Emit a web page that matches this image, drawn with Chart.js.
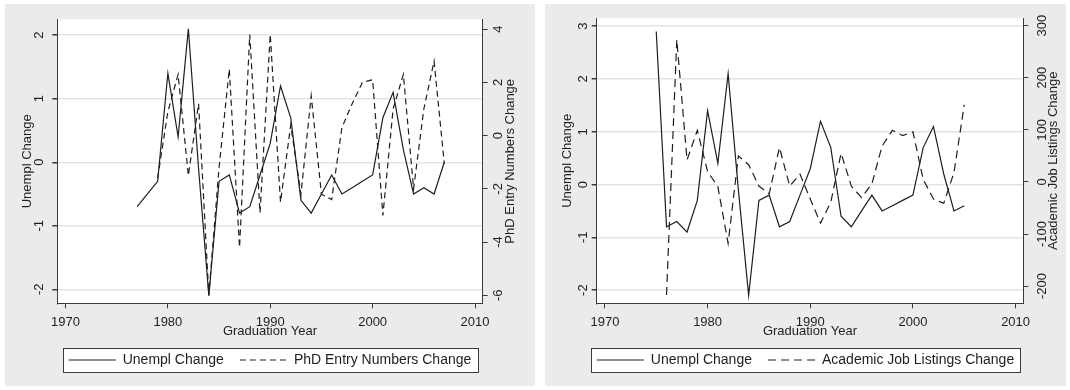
<!DOCTYPE html>
<html>
<head>
<meta charset="utf-8">
<script src="https://cdn.jsdelivr.net/npm/chart.js@4.4.0/dist/chart.umd.min.js"></script>
<style>
  body { margin: 0; background: #fff; width: 1070px; height: 390px; position: relative; overflow: hidden; }
  .panel { position: absolute; top: 4px; height: 382px; background: #ebebeb; }
  #p1 { left: 5px; width: 530px; }
  #p2 { left: 545px; width: 521px; }
  canvas { display: block; }
</style>
</head>
<body>
<div class="panel" id="p1"><canvas id="c1" width="530" height="382"></canvas></div>
<div class="panel" id="p2"><canvas id="c2" width="521" height="382"></canvas></div>
<script>
// left panel: unemployment vs PhD entry numbers (1977-2007)
const leftYears = [1977, 1978, 1979, 1980, 1981, 1982, 1983, 1984, 1985, 1986, 1987, 1988, 1989, 1990, 1991, 1992,
  1993, 1994, 1995, 1996, 1997, 1998, 1999, 2000, 2001, 2002, 2003, 2004, 2005, 2006, 2007];
const leftUnempl = [-0.7, null, -0.3, 1.4, 0.4, 2.1, -0.1, -2.1, -0.3, -0.2, -0.8, -0.7, -0.2, 0.3, 1.2, 0.7,
  -0.6, -0.8, -0.5, -0.2, -0.5, -0.4, -0.3, -0.2, 0.7, 1.1, 0.2, -0.5, -0.4, -0.5, 0.0];
const leftPhd = [null, null, -1.6, 0.9, 2.3, -1.5, 1.2, -6.0, -1.2, 2.5, -4.2, 3.8, -2.9, 3.8, -2.5, 0.4,
  -2.2, 1.5, -2.2, -2.4, 0.3, 1.2, 2.0, 2.1, -3.0, 1.0, 2.3, -2.0, 1.0, 2.8, -1.05];

// right panel: unemployment vs academic job listings (1975-2005)
const rightYears = [1975, 1976, 1977, 1978, 1979, 1980, 1981, 1982, 1983, 1984, 1985, 1986, 1987, 1988, 1989, 1990,
  1991, 1992, 1993, 1994, 1995, 1996, 1997, 1998, 1999, 2000, 2001, 2002, 2003, 2004, 2005];
const rightUnempl = [2.9, -0.8, -0.7, -0.9, -0.3, 1.4, 0.4, 2.1, -0.1, -2.1, -0.3, -0.2, -0.8, -0.7, -0.2, 0.3,
  1.2, 0.7, -0.6, -0.8, -0.5, -0.2, -0.5, -0.4, -0.3, -0.2, 0.7, 1.1, 0.2, -0.5, -0.4];
const rightJobs = [null, -217, 273, 42, 99, 20, -9, -118, 50, 33, -8, -23, 66, -8, 15, -33,
  -79, -39, 55, -8, -30, -4, 69, 99, 89, 96, 5, -33, -41, 18, 148];

const xTicks = [1970, 1980, 1990, 2000, 2010];
const leftYTicks = [-2, -1, 0, 1, 2];
const leftY2Ticks = [-6, -4, -2, 0, 2, 4];
const rightYTicks = [-2, -1, 0, 1, 2, 3];
const rightY2Ticks = [-200, -100, 0, 100, 200, 300];

const FONT = '"Liberation Sans", Arial, sans-serif';
const INK = '#1e1e1e';
const AXIS = '#3a3a3a';
Chart.defaults.font.family = FONT;
Chart.defaults.color = INK;

const plotBackground = {
  id: 'plotBackground',
  beforeDraw(chart) {
    const { ctx, chartArea: a } = chart;
    ctx.save();
    ctx.fillStyle = '#ffffff';
    ctx.fillRect(a.left, a.top, a.right - a.left, a.bottom - a.top);
    ctx.restore();
  }
};

// frame round the legend entries
const legendFrame = {
  id: 'legendFrame',
  afterDraw(chart) {
    const boxes = chart.legend && chart.legend.legendHitBoxes;
    if (!boxes || !boxes.length) return;
    const x0 = Math.min(...boxes.map(b => b.left)) - 6;
    const x1 = Math.max(...boxes.map(b => b.left + b.width)) + 6;
    const cy = boxes[0].top + boxes[0].height / 2;
    const ctx = chart.ctx;
    ctx.save();
    ctx.fillStyle = '#ffffff';
    ctx.globalCompositeOperation = 'destination-over';
    ctx.fillRect(Math.round(x0), Math.round(cy - 12), Math.round(x1 - x0), 24);
    ctx.globalCompositeOperation = 'source-over';
    ctx.strokeStyle = AXIS;
    ctx.lineWidth = 1;
    ctx.strokeRect(Math.round(x0) + 0.5, Math.round(cy - 12) + 0.5, Math.round(x1 - x0), 24);
    ctx.restore();
  }
};

// right axis title, read bottom to top like the left one
const sideTitle = {
  id: 'sideTitle',
  afterDraw(chart, args, opts) {
    const s = chart.scales.y2;
    const a = chart.chartArea;
    const ctx = chart.ctx;
    ctx.save();
    ctx.translate(s.left + opts.offset, (a.top + a.bottom) / 2);
    ctx.rotate(-Math.PI / 2);
    ctx.font = '13px ' + FONT;
    ctx.fillStyle = INK;
    ctx.textAlign = 'center';
    ctx.textBaseline = 'middle';
    ctx.fillText(opts.text, 0, 0);
    ctx.restore();
  }
};

function points(years, values) {
  return years.map((yr, i) => ({ x: yr, y: values[i] }));
}

function fixTicks(list) {
  return scale => { scale.ticks = list.map(v => ({ value: v })); };
}

// point-style legend items lose the dash, so copy the line style back in
function lineLabels(chart) {
  const items = Chart.defaults.plugins.legend.labels.generateLabels(chart);
  items.forEach(item => {
    const ds = chart.data.datasets[item.datasetIndex];
    item.lineDash = ds.borderDash || [];
    item.lineWidth = ds.borderWidth;
    item.strokeStyle = ds.borderColor;
  });
  return items;
}

function makePanel(id, p) {
  const ctx = document.getElementById(id).getContext('2d');
  return new Chart(ctx, {
    type: 'line',
    data: {
      datasets: [
        {
          label: 'Unempl Change',
          data: points(p.years, p.unempl),
          yAxisID: 'y',
          borderColor: INK,
          borderWidth: 1.2,
          pointRadius: 0,
          pointStyle: 'line',
          tension: 0,
          spanGaps: true
        },
        {
          label: p.label2,
          data: points(p.years, p.other),
          yAxisID: 'y2',
          borderColor: INK,
          borderWidth: 1.2,
          borderDash: p.dash,
          pointRadius: 0,
          pointStyle: 'line',
          tension: 0,
          spanGaps: true
        }
      ]
    },
    options: {
      responsive: false,
      animation: false,
      layout: { padding: { top: 14.3, bottom: 9, left: 0, right: 0 } },
      plugins: {
        tooltip: { enabled: false },
        legend: {
          position: 'bottom',
          labels: {
            usePointStyle: true,
            pointStyle: 'line',
            pointStyleWidth: 47,
            padding: 16,
            color: INK,
            font: { size: 14 },
            generateLabels: lineLabels
          }
        },
        sideTitle: { text: p.label2, offset: p.y2TitleOffset }
      },
      scales: {
        x: {
          type: 'linear',
          min: 1969.2,
          max: 2010.75,
          afterBuildTicks: fixTicks(xTicks),
          afterFit: s => { s.height = 33.7; },
          ticks: { color: INK, font: { size: 13 }, padding: 6, maxRotation: 0, callback: v => String(v) },
          grid: { drawOnChartArea: false, tickLength: 5, tickColor: AXIS },
          border: { color: AXIS },
          title: { display: true, text: 'Graduation Year', color: INK, font: { size: 13 }, padding: { top: 0, bottom: -2.3 } }
        },
        y: {
          position: 'left',
          min: p.yMin,
          max: p.yMax,
          afterBuildTicks: fixTicks(p.yTicks),
          afterFit: s => { s.width = p.yWidth; },
          ticks: { color: INK, font: { size: 13 }, minRotation: 90, maxRotation: 90, crossAlign: 'center', padding: p.yPad },
          grid: { color: '#e4e4e4', lineWidth: 1.5, tickLength: 5, tickColor: AXIS },
          border: { color: AXIS },
          title: { display: true, text: 'Unempl Change', color: INK, font: { size: 13 }, padding: { top: p.yTitlePad, bottom: 0 } }
        },
        y2: {
          position: 'right',
          min: p.y2Min,
          max: p.y2Max,
          afterBuildTicks: fixTicks(p.y2Ticks),
          afterFit: s => { s.width = p.y2Width; },
          ticks: { color: INK, font: { size: 13 }, minRotation: 90, maxRotation: 90, crossAlign: 'center', padding: p.y2Pad },
          grid: { drawOnChartArea: false, tickLength: 5, tickColor: AXIS },
          border: { color: AXIS }
        }
      }
    },
    plugins: [plotBackground, legendFrame, sideTitle]
  });
}

makePanel('c1', {
  years: leftYears, unempl: leftUnempl, other: leftPhd,
  label2: 'PhD Entry Numbers Change', dash: [6, 4],
  yMin: -2.22, yMax: 2.25, yTicks: leftYTicks, yWidth: 52.3, yPad: 7.5, yTitlePad: 14.2,
  y2Min: -6.3, y2Max: 4.37, y2Ticks: leftY2Ticks, y2Width: 52.3, y2Pad: 4.5, y2TitleOffset: 27.3
});

makePanel('c2', {
  years: rightYears, unempl: rightUnempl, other: rightJobs,
  label2: 'Academic Job Listings Change', dash: [8, 5],
  yMin: -2.25, yMax: 3.15, yTicks: rightYTicks, yWidth: 51.7, yPad: 2.3, yTitlePad: 14.6,
  y2Min: -233, y2Max: 314, y2Ticks: rightY2Ticks, y2Width: 42.7, y2Pad: 1.2, y2TitleOffset: 30.2
});
</script>
</body>
</html>
